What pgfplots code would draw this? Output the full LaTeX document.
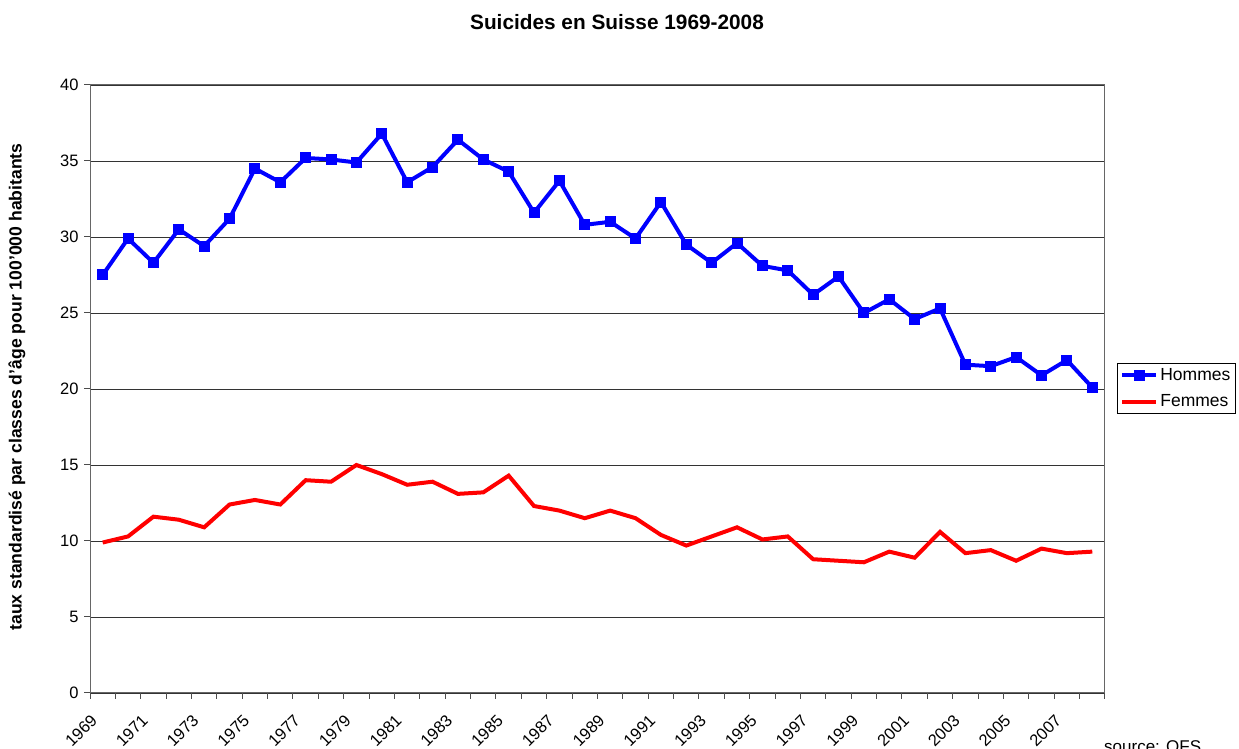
\documentclass[border=0pt]{standalone}
\usepackage{pgfplots}
\pgfplotsset{compat=1.18}
\usepackage{fontspec}
\setmainfont{Liberation Sans}
\pgfplotstableread{
x h f
0 27.5 9.9
1 29.9 10.3
2 28.3 11.6
3 30.5 11.4
4 29.4 10.9
5 31.2 12.4
6 34.5 12.7
7 33.6 12.4
8 35.2 14.0
9 35.1 13.9
10 34.9 15.0
11 36.8 14.4
12 33.6 13.7
13 34.6 13.9
14 36.4 13.1
15 35.1 13.2
16 34.3 14.3
17 31.6 12.3
18 33.7 12.0
19 30.8 11.5
20 31.0 12.0
21 29.9 11.5
22 32.3 10.4
23 29.5 9.7
24 28.3 10.3
25 29.6 10.9
26 28.1 10.1
27 27.8 10.3
28 26.2 8.8
29 27.4 8.7
30 25.0 8.6
31 25.9 9.3
32 24.6 8.9
33 25.3 10.6
34 21.6 9.2
35 21.5 9.4
36 22.1 8.7
37 20.9 9.5
38 21.9 9.2
39 20.1 9.3
}\data
\begin{document}
\begin{tikzpicture}
\useasboundingbox (0pt,0pt) rectangle (1239pt,749pt);
\begin{axis}[
  at={(90pt,56pt)}, anchor=south west,
  scale only axis, width=1015pt, height=608pt,
  xmin=-0.5, xmax=39.5, ymin=0, ymax=40,
  xtick={0,2,...,38},
  xticklabels={1969,1971,1973,1975,1977,1979,1981,1983,1985,1987,1989,1991,1993,1995,1997,1999,2001,2003,2005,2007},
  minor xtick={-0.5,0.5,...,39.5},
  ytick={0,5,...,40},
  /pgf/number format/assume math mode=true,
  ymajorgrids,
  major grid style={draw=black!80, line width=0.9pt},
  axis line style={draw=black!60, line width=1pt},
  tick style={draw=black!70, line width=1pt},
  major x tick style={draw=none},
  minor tick length=6pt, major tick length=6pt,
  tick align=outside,
  xtick pos=bottom, ytick pos=left,
  ticklabel style={font=\fontsize{16.5}{18}\selectfont},
  xticklabel style={rotate=45, anchor=north east, xshift=-18pt, yshift=0pt, inner sep=1pt},
  yticklabel style={xshift=-2pt},
  legend style={at={(1.0118,0.5428)}, anchor=north west, draw=black, line width=0.8pt,
    font=\fontsize{17.5}{21}\selectfont, inner sep=3pt, row sep=9pt,
    legend cell align=left},
  legend image code/.code={\draw[#1] (0pt,0pt) -- (34pt,0pt); \draw[#1, only marks] plot coordinates {(17pt,0pt)};},
]
\addplot[blue, line width=4pt, mark=square*, mark size=5pt, mark options={solid, line width=0pt}] table[x=x,y=h]{\data};
\addlegendentry{Hommes}
\addplot[red, line width=4pt] table[x=x,y=f]{\data};
\addlegendentry{Femmes}
\end{axis}
\node[font=\bfseries\fontsize{20.8}{24}\selectfont] at (617pt,727pt) {Suicides en Suisse 1969-2008};
\node[font=\bfseries\fontsize{17.6}{20}\selectfont, rotate=90] at (17pt,362pt) {taux standardisé par classes d'âge pour 100'000 habitants};
\node[font=\fontsize{17}{19}\selectfont, anchor=base west, inner sep=0pt] at (1104pt,-4pt) {source: OFS};
\end{tikzpicture}
\end{document}
